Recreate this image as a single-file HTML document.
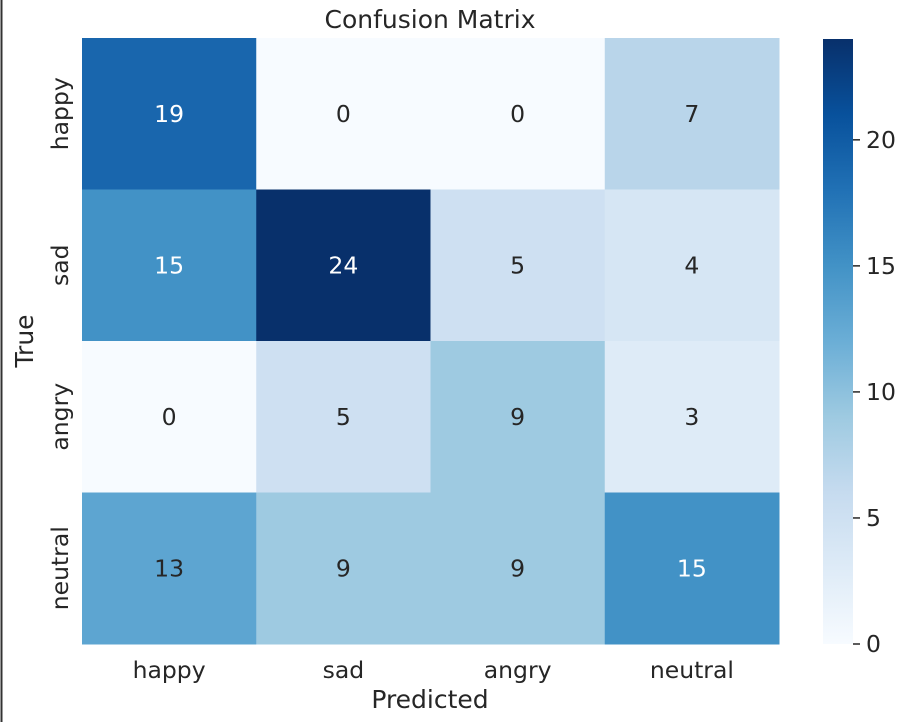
<!DOCTYPE html>
<html><head><meta charset="utf-8"><style>
body{margin:0;background:#fff;width:908px;height:722px;overflow:hidden;font-family:"Liberation Sans","DejaVu Sans",sans-serif}
</style></head><body>
<svg id="chart" width="908" height="722" xmlns="http://www.w3.org/2000/svg" font-family="DejaVu Sans, Liberation Sans, sans-serif">
<line x1="1.5" y1="0" x2="1.5" y2="722" stroke="#333" stroke-width="2"/>
<defs><linearGradient id="cb" x1="0" y1="1" x2="0" y2="0">
<stop offset="0" stop-color="#f7fbff"/><stop offset="0.125" stop-color="#deebf7"/><stop offset="0.25" stop-color="#c6dbef"/><stop offset="0.375" stop-color="#9ecae1"/><stop offset="0.5" stop-color="#6baed6"/><stop offset="0.625" stop-color="#4292c6"/><stop offset="0.75" stop-color="#2171b5"/><stop offset="0.875" stop-color="#08519c"/><stop offset="1" stop-color="#08306b"/>
</linearGradient></defs>
<g id="cells"></g>
<text x="430" y="28" text-anchor="middle" font-size="25" fill="#262626">Confusion Matrix</text>
<text x="430" y="708" text-anchor="middle" font-size="25" fill="#262626">Predicted</text>
<text transform="translate(33,341) rotate(-90)" text-anchor="middle" font-size="25" fill="#262626">True</text>
<rect x="823" y="39" width="30" height="605" fill="url(#cb)"/>
<g id="cbticks"></g>
</svg>
<script>
const categories=["happy","sad","angry","neutral"];
const matrix=[[19,0,0,7],[15,24,5,4],[0,5,9,3],[13,9,9,15]];
const cbTicks=[0,5,10,15,20];
const vmax=24;
const X0=82,Y0=38,W=697,H=606;
const cw=W/categories.length,ch=H/categories.length;
const stops=["#f7fbff","#deebf7","#c6dbef","#9ecae1","#6baed6","#4292c6","#2171b5","#08519c","#08306b"].map(h=>[1,3,5].map(i=>parseInt(h.substr(i,2),16)));
function color(v){let t=Math.max(0,Math.min(1,v/vmax))*8;let i=Math.min(7,Math.floor(t)),f=t-i;const c=stops[i].map((a,k)=>Math.round(a+(stops[i+1][k]-a)*f));return c;}
function lum(c){return (0.299*c[0]+0.587*c[1]+0.114*c[2])/255;}
const NS="http://www.w3.org/2000/svg";
const g=document.getElementById('cells'),svg=document.getElementById('chart');
function xPos(j){return X0+j*cw;}function yPos(i){return Y0+i*ch;}
matrix.forEach((row,i)=>row.forEach((v,j)=>{
const c=color(v);
const r=document.createElementNS(NS,'rect');
r.setAttribute('x',xPos(j));r.setAttribute('y',yPos(i));r.setAttribute('width',cw+0.5);r.setAttribute('height',ch+0.5);
r.setAttribute('fill',`rgb(${c})`);


g.appendChild(r);
const t=document.createElementNS(NS,'text');
t.setAttribute('x',xPos(j)+cw/2);t.setAttribute('y',yPos(i)+ch/2+8);t.setAttribute('text-anchor','middle');t.setAttribute('font-size','23.5');
t.setAttribute('fill',lum(c)<0.55?'#ffffff':'#262626');t.textContent=v;


g.appendChild(t);
}));
categories.forEach((c,k)=>{
const t=document.createElementNS(NS,'text');
t.setAttribute('x',xPos(k)+cw/2);t.setAttribute('y',678);t.setAttribute('text-anchor','middle');t.setAttribute('font-size','23.5');t.setAttribute('fill','#262626');t.textContent=c;


svg.appendChild(t);
const y=document.createElementNS(NS,'text');
y.setAttribute('transform',`translate(68,${yPos(k)+ch/2}) rotate(-90)`);y.setAttribute('text-anchor','middle');y.setAttribute('font-size','23.5');y.setAttribute('fill','#262626');y.textContent=c;


svg.appendChild(y);
});
const cg=document.getElementById('cbticks');
cbTicks.forEach(v=>{
const y=644-v/vmax*605;
const l=document.createElementNS(NS,'line');
l.setAttribute('x1',853);l.setAttribute('x2',860);l.setAttribute('y1',y);l.setAttribute('y2',y);l.setAttribute('stroke','#262626');l.setAttribute('stroke-width','1.5');


cg.appendChild(l);
const t=document.createElementNS(NS,'text');
t.setAttribute('x',866);t.setAttribute('y',y+8);t.setAttribute('font-size','23.5');t.setAttribute('fill','#262626');t.textContent=v;


cg.appendChild(t);
});
</script>
</body></html>
